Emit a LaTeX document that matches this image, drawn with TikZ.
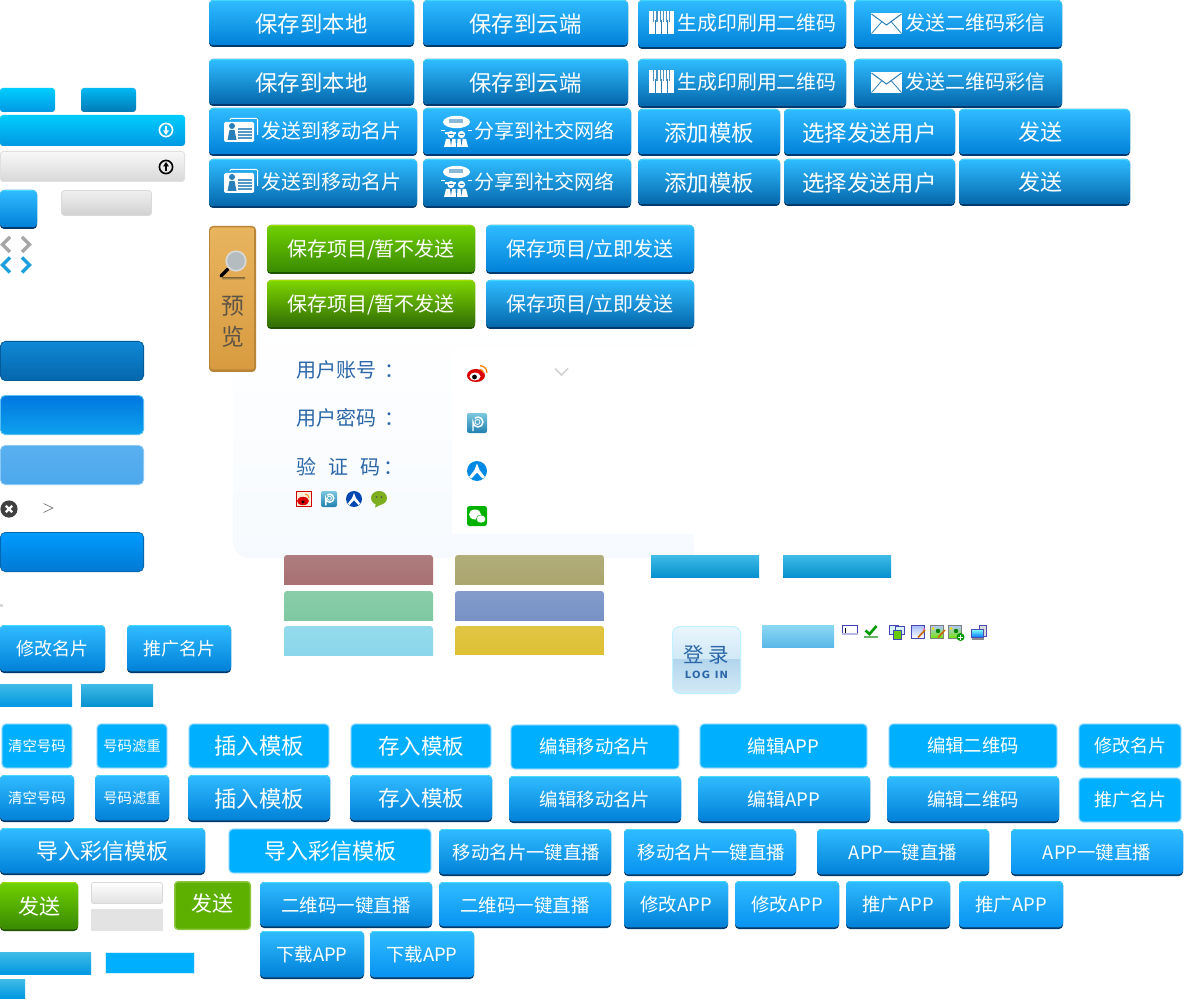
\documentclass[tikz,border=0pt]{standalone}
\usepackage{fontspec}
\setmainfont{Noto Sans CJK SC}
\newfontfamily\latinwide[LetterSpace=12]{DejaVu Sans}
\definecolor{bTop}{HTML}{2FBBFF}\definecolor{bBot}{HTML}{0181D8}\definecolor{bDark}{HTML}{0567AB}
\definecolor{bLip}{HTML}{023A6E}\definecolor{bHi}{HTML}{45DCFF}\definecolor{bBright}{HTML}{0893F2}
\definecolor{flat}{HTML}{00B0FF}\definecolor{glow}{HTML}{6FD0FF}\definecolor{glowout}{HTML}{D0EFFF}
\definecolor{gTop}{HTML}{6FCF00}\definecolor{gBot}{HTML}{398A02}\definecolor{gDark}{HTML}{2F6C05}\definecolor{gLip}{HTML}{1E5400}\definecolor{gHi}{HTML}{A5E000}
\definecolor{inkblue}{HTML}{2A66A8}\definecolor{iconblue}{HTML}{2A7FB8}
\definecolor{pvink}{HTML}{5E5446}\definecolor{pvT}{HTML}{E8B45E}\definecolor{pvB}{HTML}{D89B40}\definecolor{pvE}{HTML}{B98536}
\definecolor{panelB}{HTML}{F6FAFE}\definecolor{pgT}{HTML}{7CC8E0}\definecolor{pgB}{HTML}{2080B0}
\definecolor{chevblue}{HTML}{1E9FDD}
\newcounter{lbl}
\tikzset{x=1pt,y=-1pt,
  lbltext/.style={inner sep=0pt,outer sep=0pt,text=white,anchor=center},
  formtext/.style={inner sep=0pt,outer sep=0pt,text=inkblue,anchor=west},
  pvtext/.style={inner sep=0pt,outer sep=0pt,text=pvink,anchor=center},
  logtext/.style={inner sep=0pt,outer sep=0pt,text=inkblue,anchor=center}}
\newcommand\lbl[5][lbltext]{\stepcounter{lbl}\node[#1] (lbl\arabic{lbl}) at ({#2},{#3+1}) {\fontsize{#4}{#4}\selectfont\rule[-.12em]{0pt}{1em}#5};}
\def\hi{bHi}
\newcommand\lipbtn[9]{%
  \fill[#3,rounded corners=4] ({#4},{#5}) rectangle ({#6},{#7});
  \fill[\hi,rounded corners=4] ({#4},{#5}) rectangle ({#6},{#7-2});
  \path[rounded corners=4,top color=#1,bottom color=#2] ({#4},{#5+1}) rectangle ({#6},{#7-2});
  \lbl{(#4+#6)/2}{(#5+#7)/2-1}{#8}{#9}}
\newcommand\bN[6]{\lipbtn{bTop}{bBot}{bLip}{#1}{#2}{#3}{#4}{#5}{#6}}
\newcommand\bD[6]{\lipbtn{bTop}{bDark}{bLip}{#1}{#2}{#3}{#4}{#5}{#6}}
\newcommand\bB[6]{\lipbtn{bTop}{bBright}{bLip}{#1}{#2}{#3}{#4}{#5}{#6}}
\newcommand\gN[6]{\def\hi{gHi}\lipbtn{gTop}{gBot}{gLip}{#1}{#2}{#3}{#4}{#5}{#6}\def\hi{bHi}}
\newcommand\gD[6]{\def\hi{gHi}\lipbtn{gTop!90!yellow}{gDark}{gLip}{#1}{#2}{#3}{#4}{#5}{#6}\def\hi{bHi}}
\newcommand\bF[6]{%
  \fill[glowout,rounded corners=5] ({#1},{#2}) rectangle ({#3},{#4});
  \fill[glow,rounded corners=4.5] ({#1+.8},{#2+.8}) rectangle ({#3-.8},{#4-.8});
  \fill[flat,rounded corners=4] ({#1+1.6},{#2+1.6}) rectangle ({#3-1.6},{#4-1.6});
  \lbl{(#1+#3)/2}{(#2+#4)/2-1}{#5}{#6}}
\newcommand\grad[7]{\path[rounded corners=#7,top color=#1,bottom color=#2] ({#3},{#4}) rectangle ({#5},{#6});}
\newcommand\strip[6]{\begin{scope}\clip ({#3},{#4}) rectangle ({#5},{#6});
  \path[rounded corners=3,top color=#1!90!white,bottom color=#1] ({#3},{#4}) rectangle ({#5},{#6+6});\end{scope}}
\newcommand\piano[2]{\begin{scope}[shift={(#1,#2)}]
  \fill[white] (0,1) rectangle (25,24);
  \foreach \k in {6.2,12.5,18.8}{\draw[iconblue,line width=.7] (\k,24) -- (\k,10);}
  \foreach \k in {4.2,7.4,10.6,13.8,17,20.2}{\fill[iconblue!85] (\k,1) rectangle ({\k+1.1},12);}
  \end{scope}}
\newcommand\envelope[2]{\begin{scope}[shift={(#1,#2)}]
  \fill[white] (0,0) rectangle (31,21);
  \draw[iconblue,line width=1] (0.5,1) -- (15.5,12) -- (30.5,1);
  \draw[iconblue,line width=.8] (0.5,20.5) -- (11,8.5) (30.5,20.5) -- (20,8.5);
  \end{scope}}
\newcommand\card[2]{\begin{scope}[shift={(#1,#2)}]
  \draw[white,line width=1,rounded corners=1] (6,2) -- (6,.5) -- (33.5,.5) -- (33.5,17);
  \fill[white,rounded corners=1.5] (0,4) rectangle (30,24);
  \fill[iconblue] (8,8) circle (3);
  \fill[iconblue] (3.5,22) -- (5.5,12) -- (10.5,12) -- (12.5,22) -- cycle;
  \foreach \k in {10,13,16,19}{\fill[iconblue!80] (14,\k) rectangle (28,{\k+1.6});}
  \end{scope}}
\newcommand\people[2]{\begin{scope}[shift={(#1,#2)}]
  \fill[white] (15.5,6) ellipse (13.5 and 6.2);
  \fill[iconblue!55] (8,3) rectangle (22,7);
  \draw[white,line width=1] (0,15) -- (4,15) (27,15) -- (31,15);
  \fill[white] (4,18) -- (15,18) -- (15,16) -- (4,16) -- cycle;
  \fill[white] (10,18.5) circle (3.6) (20.5,18.5) circle (3.6);
  \fill[iconblue] (8,18) rectangle (12,19) (18.5,18) rectangle (22.5,19);
  \fill[white] (3,31) -- (5,23) -- (14.5,23) -- (15,31) -- cycle;
  \fill[white] (16,31) -- (16.5,23) -- (25,23) -- (27,31) -- cycle;
  \fill[iconblue] (9,23) -- (11,23) -- (10,30) -- cycle (19.5,23) -- (21.5,23) -- (20.5,30) -- cycle;
  \end{scope}}
\newcommand\weibo[2]{\begin{scope}[shift={(#1,#2)}]
  \fill[red!85!black] (9,10.5) ellipse (9 and 6.5);
  \fill[white] (8,11.5) ellipse (5.5 and 4);
  \fill[black] (7.5,12) circle (2.4);
  \draw[orange,line width=1.3] (13,0.7) arc[start angle=-90,end angle=0,radius=7];
  \draw[orange,line width=1.2] (13,4.5) arc[start angle=-90,end angle=0,radius=3.5];
  \end{scope}}
\newcommand\pgicon[3]{\begin{scope}[shift={(#1,#2)},scale=#3]
  \path[rounded corners=2,top color=pgT,bottom color=pgB] (0,0) rectangle (20,20);
  \draw[white,line width=1.4] (6,18) -- (6,9) arc[start angle=180,end angle=-130,radius=5];
  \draw[white,line width=.8] (10.5,9) circle (2.5);
  \end{scope}}
\newcommand\acircle[4]{\begin{scope}[shift={(#1,#2)},scale=#3]
  \fill[#4] (10,10) circle (10);
  \fill[white] (10,2.5) -- (12.5,9) -- (18,16) -- (15.5,17.5) -- (10,11.5) -- (4.5,17.5) -- (2,16) -- (7.5,9) -- cycle;
  \end{scope}}
\begin{document}
\begin{tikzpicture}
\useasboundingbox (0,0) rectangle (1200,1000);
\fill[white] (0,0) rectangle (1200,1000);
%% form panel
\begin{scope}
\clip (220,300) rectangle (694,570);
\path[top color=white,bottom color=panelB,rounded corners=16] (233,320) rectangle (730,558);
\end{scope}
\fill[white] (452,348) rectangle (694,534);
%% top rows
\bN{209}{0}{414}{47}{22.4}{保存到本地}
\bN{423}{0}{628}{47}{22.4}{保存到云端}
\bN{638}{0}{846}{49}{22}{}
\bN{854}{0}{1062}{49}{22}{}
\bD{209}{59}{414}{106}{22.4}{保存到本地}
\bD{423}{59}{628}{106}{22.4}{保存到云端}
\bD{638}{59}{846}{108}{22}{}
\bD{854}{59}{1062}{108}{22}{}
\lbl{757}{22}{19.9}{生成印刷用二维码}
\lbl{975}{22}{20}{发送二维码彩信}
\lbl{757}{81}{19.9}{生成印刷用二维码}
\lbl{975}{81}{20}{发送二维码彩信}
\piano{649}{10}\piano{649}{69}
\envelope{871}{13}\envelope{871}{72}
\bN{209}{108}{417}{156}{20}{}
\bN{423}{108}{631}{156}{20}{}
\bD{209}{159}{417}{208}{20}{}
\bD{423}{159}{631}{208}{20}{}
\lbl{331.5}{130}{20}{发送到移动名片}
\lbl{544}{130}{20}{分享到社交网络}
\lbl{331.5}{181}{20}{发送到移动名片}
\lbl{544}{181}{20}{分享到社交网络}
\card{224}{118}\card{224}{169}
\people{441}{116}\people{441}{166}
\bN{638}{109}{780}{156}{22.4}{添加模板}
\bN{784}{109}{955}{156}{22.4}{选择发送用户}
\bN{959}{109}{1130}{156}{22}{}
\bD{638}{159}{780}{206}{22.4}{添加模板}
\bD{784}{159}{955}{206}{22.4}{选择发送用户}
\bD{959}{159}{1130}{206}{22}{}
\lbl{1040}{131}{22}{发送}
\lbl{1040}{181}{22}{发送}
%% preview
\fill[pvE,rounded corners=4] (209,226) rectangle (256,372);
\path[top color=pvT,bottom color=pvB,rounded corners=3] (210.5,227.5) rectangle (254.5,369.5);
\path[top color=pvT!70!black,bottom color=pvT] (222,278) rectangle (245,280);
\draw[black,line width=3.2,line cap=round] (221,276) -- (228,269);
\draw[black!15,fill=cyan!20!black!35!white,line width=1.6] (236,261) circle (9.8);
\lbl[pvtext]{232.5}{305}{23}{预}
\lbl[pvtext]{232.5}{336}{23}{览}
\gN{267}{225}{475}{274}{20}{保存项目/暂不发送}
\bN{486}{225}{694}{274}{20}{保存项目/立即发送}
\gD{267}{280}{475}{329}{20}{保存项目/暂不发送}
\bD{486}{280}{694}{329}{20}{保存项目/立即发送}
%% form
\lbl[formtext]{296}{369}{20}{用户账号\hspace{8pt}：}
\lbl[formtext]{296}{417}{20}{用户密码\hspace{8pt}：}
\lbl[formtext]{296}{466}{20}{验\hspace{12pt}证\hspace{12pt}码\hspace{3pt}：}
\weibo{467}{365}
\draw[black!18,line width=1.6] (555,368.5) -- (561.5,375) -- (568,368.5);
\pgicon{467}{413}{1}
\acircle{467}{461}{1}{blue!40!cyan!90!black}
\fill[green!70!black,rounded corners=2.5] (467,506) rectangle (487,526);
\fill[white] (475,514.5) ellipse (6 and 5);
\fill[white,draw=green!70!black,line width=.4] (481,519) ellipse (4.8 and 4);
\draw[red!80!black,fill=orange!15!white,line width=.8] (296.5,491.5) rectangle (311.5,506.5);
\fill[red!85!black] (303,501) ellipse (6 and 4.2);
\fill[black] (303,502) circle (1.6);
\draw[orange,line width=.8] (305,494) arc[start angle=-90,end angle=0,radius=4];
\pgicon{321}{491}{.8}
\acircle{346}{491}{.8}{blue!60!cyan!70!black}
\definecolor{bub}{HTML}{7DAE1E}
\fill[bub] (379,498) ellipse (8 and 7);
\fill[bub] (376,503) -- (375,507.5) -- (381,504.5) -- cycle;
\fill[black!70] (376.5,497) circle (.8) (381.5,497) circle (.8);
%% colour strips
\definecolor{s1}{HTML}{A66E70}\definecolor{s2}{HTML}{A9A46C}\definecolor{s3}{HTML}{7CC8A0}\definecolor{s4}{HTML}{7590C5}\definecolor{s5}{HTML}{88D6EA}\definecolor{s6}{HTML}{DDBF30}
\strip{s1}{}{284}{555}{433}{584}
\strip{s2}{}{455}{555}{604}{584}
\strip{s3}{}{284}{591}{433}{620}
\strip{s4}{}{455}{591}{604}{620}
\strip{s5}{}{284}{626}{433}{655}
\strip{s6}{}{455}{626}{604}{654}
\definecolor{sbT}{HTML}{40BCE6}\definecolor{sbB}{HTML}{0691CF}
\grad{sbT}{sbB}{651}{555}{759}{577}{0}
\grad{sbT}{sbB}{783}{555}{891}{577}{0}
%% left column
\definecolor{cT}{HTML}{00CDFF}\definecolor{cB}{HTML}{0298E2}
\grad{cT}{cB}{0}{88}{55}{112}{3}
\grad{cT!60!cB}{cB!80!black}{81}{88}{136}{112}{3}
\grad{cT}{cB}{0}{115}{185}{146}{3}
\draw[white,line width=1.6] (166,130) circle (6.6);
\draw[white,line width=1.6] (166,126) -- (166,133);
\fill[white] (163,130.5) -- (169,130.5) -- (166,135) -- cycle;
\draw[black!12,line width=.8,top color=black!3,bottom color=black!15,rounded corners=3] (.4,151.4) rectangle (184.6,181.6);
\draw[black,line width=1.6] (166,167) circle (6.6);
\draw[black,line width=1.6] (166,171) -- (166,164);
\fill[black] (163,166.5) -- (169,166.5) -- (166,162) -- cycle;
\lipbtn{bTop}{bBot}{bLip}{0}{190}{37}{229}{10}{}
\draw[black!15,line width=.8,top color=black!6,bottom color=black!18,rounded corners=3] (61.5,190.5) rectangle (151.5,215.5);
\draw[black!35,line width=3.4] (10,237) -- (2.5,244.5) -- (10,252);
\draw[black!35,line width=3.4] (22,237) -- (29.5,244.5) -- (22,252);
\draw[chevblue,line width=3.4] (10,257.5) -- (2.5,265) -- (10,272.5);
\draw[chevblue,line width=3.4] (22,257.5) -- (29.5,265) -- (22,272.5);
\definecolor{lA}{HTML}{0F88D6}\definecolor{lB}{HTML}{0566AC}
\draw[lB!90!black,line width=.8,top color=lA,bottom color=lB,rounded corners=5] (.4,341.4) rectangle (143.6,380.6);
\definecolor{lC}{HTML}{0077E0}\definecolor{lD}{HTML}{0EA2EE}
\draw[lD!70!white,line width=.8,top color=lC,bottom color=lD,rounded corners=5] (.4,395.4) rectangle (143.6,434.6);
\definecolor{lE}{HTML}{5AB0F0}\definecolor{lF}{HTML}{4CA8EC}
\draw[lE!70!white,line width=.8,top color=lE,bottom color=lF,rounded corners=5] (.4,445.4) rectangle (143.6,484.6);
\fill[black!75] (9,509) circle (8.6);
\draw[white,line width=2.4] (5.8,505.8) -- (12.2,512.2) (12.2,505.8) -- (5.8,512.2);
\draw[black!60,line width=.6] (43.5,503.5) -- (53,508) -- (43.5,512.5);
\definecolor{lG}{HTML}{009CFF}\definecolor{lH}{HTML}{0179D2}
\draw[lH!85!black,line width=.8,top color=lG,bottom color=lH,rounded corners=5] (.4,532.4) rectangle (143.6,571.6);
\fill[black!15] (0,604) rectangle (3,607);
\bN{0}{625}{105}{673}{18}{修改名片}
\bN{127}{625}{231}{673}{18}{推广名片}
\grad{sbT}{cB}{0}{684}{72}{706}{0}
\grad{sbT}{sbB}{81}{684}{153}{706}{0}
%% login
\begin{scope}
\clip[rounded corners=8] (672,626) rectangle (741,694);
\definecolor{ln1}{HTML}{EAF6FD}\definecolor{ln2}{HTML}{D0E8F6}\definecolor{ln3}{HTML}{B2D5EC}\definecolor{ln4}{HTML}{D4EAF6}
\path[top color=ln1,bottom color=ln2] (672,626) rectangle (741,659);
\path[top color=ln3,bottom color=ln4] (672,659) rectangle (741,694);
\end{scope}
\draw[blue!20!cyan!25!white,line width=1,rounded corners=8] (672.5,626.5) rectangle (740.5,693.5);
\lbl[logtext]{706.5}{654}{20.5}{登\hspace{5pt}录}
\lbl[logtext]{706.5}{674}{10}{\latinwide\bfseries LOG IN}
\definecolor{bb1}{HTML}{8CD8F4}\definecolor{bb2}{HTML}{5AB8E8}
\grad{bb1}{bb2}{762}{625}{834}{647}{0}
%% tiny icons
\draw[blue!50!gray,fill=white,line width=.8] (842.5,625.5) rectangle (857.5,634.5);
\fill[blue!40!gray!40!white] (842,633) rectangle (858,635);
\draw[black,line width=.7] (845,627.5) -- (845,632.5);
\draw[green!60!black,line width=2.6] (865.5,630.5) -- (869.5,634) -- (876.5,626);
\fill[green!50!black!60] (864,636) rectangle (878,637.5);
\begin{scope}[shift={(889,625)}]
\draw[blue!45!gray,fill=cyan!15!white,line width=.8] (.5,.5) rectangle (9,9);
\draw[blue!45!gray,fill=cyan!15!white,line width=.8] (6,1.5) rectangle (15,9);
\draw[blue!45!gray,fill=green!50!yellow!80!black,line width=.8] (4,5) rectangle (12.5,14.5);
\end{scope}
\begin{scope}[shift={(911,625)}]
\draw[blue!45!gray,top color=cyan!25!blue!35,bottom color=white,line width=.8] (.5,.5) rectangle (13.5,13.5);
\draw[orange!80!black,line width=1.6] (7,12.5) -- (14,5);
\fill[magenta!60] (13,4) circle (1.2);
\end{scope}
\begin{scope}[shift={(930,625)}]
\draw[gray,top color=cyan!25!blue!30,bottom color=green!50!yellow!90!black,line width=.8] (.5,.5) rectangle (13.5,13.5);
\fill[yellow!80!orange] (3,3.5) circle (1.5);
\fill[green!50!black] (8,6) circle (2.2);
\draw[orange!80!black,line width=1.6] (8,12.5) -- (15,5);
\end{scope}
\begin{scope}[shift={(948,625)}]
\draw[gray,top color=cyan!25!blue!30,bottom color=green!50!yellow!90!black,line width=.8] (.5,.5) rectangle (13.5,13.5);
\fill[yellow!80!orange] (3,3.5) circle (1.5);
\fill[green!50!black] (8,6) circle (2.2);
\fill[green!60!black] (12.5,12) circle (4);
\draw[white,line width=1] (10,12) -- (15,12) (12.5,9.5) -- (12.5,14.5);
\end{scope}
\begin{scope}[shift={(971,625)}]
\draw[blue!40!gray,fill=black!15,line width=.6] (8.5,.5) rectangle (15.5,11.5);
\draw[blue!40!gray,top color=cyan!50,bottom color=blue!55!cyan,line width=.8] (.5,4.5) rectangle (12.5,12.5);
\fill[black!45] (1,12.5) rectangle (13,15);
\end{scope}
%% bottom rows
\bF{1}{723}{73}{769}{14.4}{清空号码}
\bF{96}{723}{168}{769}{14.4}{号码滤重}
\bF{188}{723}{330}{769}{22.4}{插入模板}
\bF{350}{723}{492}{769}{21.5}{存入模板}
\bF{510}{724}{680}{770}{18.4}{编辑移动名片}
\bF{699}{723}{868}{769}{18.6}{编辑APP}
\bF{888}{723}{1058}{769}{18.4}{编辑二维码}
\bF{1078}{723}{1182}{769}{18}{修改名片}
\bN{0}{775}{74}{822}{14.4}{清空号码}
\bN{95}{775}{169}{822}{14.4}{号码滤重}
\bN{188}{775}{330}{822}{22.4}{插入模板}
\bN{350}{775}{492}{822}{21.5}{存入模板}
\bN{509}{776}{681}{823}{18.4}{编辑移动名片}
\bN{698}{776}{870}{823}{18.6}{编辑APP}
\bN{887}{776}{1059}{823}{18.4}{编辑二维码}
\bF{1078}{777}{1182}{823}{18}{推广名片}
\bN{0}{828}{205}{875}{22}{导入彩信模板}
\bF{228}{828}{432}{874}{22}{导入彩信模板}
\bN{439}{829}{611}{876}{18}{}
\lbl{526.5}{852}{18.4}{移动名片一键直播}
\bB{624}{829}{796}{876}{18}{}
\lbl{711.5}{852}{18.4}{移动名片一键直播}
\bN{817}{829}{989}{876}{18.4}{APP一键直播}
\bB{1011}{829}{1183}{876}{18.4}{APP一键直播}
\gN{0}{882}{78}{931}{21}{发送}
\definecolor{fgo}{HTML}{8DC63F}\definecolor{fgi}{HTML}{5DB000}
\fill[fgo,rounded corners=4] (174,881) rectangle (251,930);
\fill[fgi,rounded corners=3] (175.5,882.5) rectangle (249.5,928.5);
\lbl{212.5}{903}{21}{发送}
\draw[black!15,line width=.8,top color=white,bottom color=black!12,rounded corners=2] (91.5,882.5) rectangle (162.5,903.5);
\fill[black!11] (91,909) rectangle (163,931);
\bN{260}{882}{432}{928}{18.5}{二维码一键直播}
\bB{439}{882}{611}{928}{18.5}{二维码一键直播}
\bN{624}{881}{728}{929}{18.4}{修改APP}
\bB{735}{881}{839}{929}{18.4}{修改APP}
\bN{846}{881}{950}{929}{18.4}{推广APP}
\bB{959}{881}{1063}{929}{18.4}{推广APP}
\bN{260}{931}{364}{979}{18.4}{下载APP}
\bB{370}{931}{474}{979}{18.4}{下载APP}
\grad{sbT}{cB}{0}{952}{91}{974}{0}
\fill[glowout] (105,952) rectangle (195,974);
\fill[flat] (106,953) rectangle (194,973);
\grad{sbT}{cB}{0}{979}{25}{998}{0}
\end{tikzpicture}
\end{document}
